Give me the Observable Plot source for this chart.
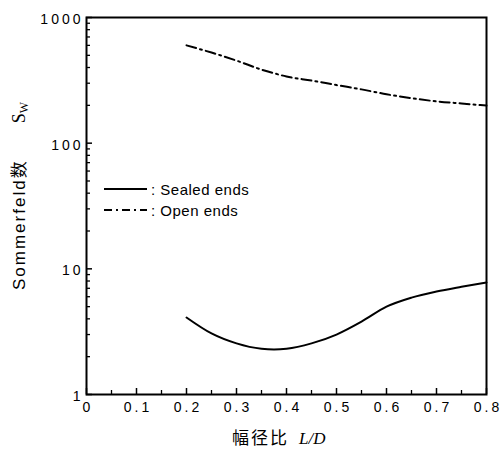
<!DOCTYPE html>
<html>
<head>
<meta charset="utf-8">
<script src="https://cdn.jsdelivr.net/npm/d3@7"></script>
<script src="https://cdn.jsdelivr.net/npm/@observablehq/plot@0.6"></script>
<style>
  html, body { margin: 0; padding: 0; background: #fff; }
  g[aria-label="x-axis tick label"] text, g[aria-label="y-axis tick label"] text { letter-spacing: 3px; }
</style>
</head>
<body>
<div id="chart"></div>
<script>
// L/D values (x)
const ratioLD = [0.20, 0.25, 0.30, 0.35, 0.375, 0.40, 0.45, 0.50, 0.55, 0.60, 0.65, 0.70, 0.75, 0.80];
// Sommerfeld number, sealed ends
const sealedEnds = [4.1, 3.06, 2.55, 2.31, 2.28, 2.31, 2.55, 3.0, 3.8, 5.0, 5.9, 6.6, 7.2, 7.8];
// Sommerfeld number, open ends
const openEnds = [600, 526, 454, 385, 360, 339, 315, 290, 268, 245, 228, 215, 207, 199];

const seriesNames = ["Sealed ends", "Open ends"];
const xTicks = [0, 0.1, 0.2, 0.3, 0.4, 0.5, 0.6, 0.7, 0.8];
const xMinorTicks = [0.05, 0.15, 0.25, 0.35, 0.45, 0.55, 0.65, 0.75];
const yTicks = [1, 10, 100, 1000];
const yMinorTicks = [2,3,4,5,6,7,8,9,20,30,40,50,60,70,80,90,200,300,400,500,600,700,800,900];

const sealedData = ratioLD.map((x, i) => ({x, y: sealedEnds[i]}));
const openData = ratioLD.map((x, i) => ({x, y: openEnds[i]}));

const W = 501, H = 449, mL = 86, mR = 15, mT = 17, mB = 55;
const plotW = W - mL - mR, plotH = H - mT - mB;
const dashOpen = "10,4,2,4";

const chart = Plot.plot({
  width: W,
  height: H,
  marginLeft: mL,
  marginRight: mR,
  marginTop: mT,
  marginBottom: mB,
  style: { fontFamily: "'Liberation Sans', Arial, sans-serif", fontSize: "14px", color: "#000", background: "#fff" },
  x: { domain: [0, 0.8] },
  y: { type: "log", domain: [1, 1000] },
  marks: [
    Plot.axisX(xTicks, { tickSize: 0, tickPadding: 8, label: null, fontSize: 14, dx: 1.5,
      tickFormat: d => d === 0 ? "0" : d3.format(".1f")(d) }),
    Plot.axisY(yTicks, { tickSize: 0, tickPadding: 3, label: null, fontSize: 14, dy: 2,
      tickFormat: d3.format("d") }),
    // inward tick marks
    Plot.ruleX(xTicks, { x: d => d, insetTop: plotH - 6, stroke: "#000", strokeWidth: 1.5 }),
    Plot.ruleX(xMinorTicks, { x: d => d, insetTop: plotH - 4, stroke: "#000", strokeWidth: 1.3 }),
    Plot.ruleY(yTicks, { y: d => d, insetRight: plotW - 6, stroke: "#000", strokeWidth: 1.5 }),
    Plot.ruleY(yMinorTicks, { y: d => d, insetRight: plotW - 4, stroke: "#000", strokeWidth: 1.3 }),
    Plot.line(sealedData, { x: "x", y: "y", curve: "monotone-x", stroke: "#000", strokeWidth: 2 }),
    Plot.line(openData, { x: "x", y: "y", curve: "monotone-x", stroke: "#000", strokeWidth: 2, strokeDasharray: dashOpen }),
    Plot.frame({ stroke: "#000", strokeWidth: 2 })
  ]
});

const svg = d3.select(chart);

// Legend
const legend = svg.append("g")
  .attr("font-family", "'Liberation Sans', Arial, sans-serif")
  .attr("font-size", 15)
  .attr("text-anchor", "start");
[[189, null, 195], [210, dashOpen, 216]].forEach(([ly, dash, ty], i) => {
  const ln = legend.append("line").attr("x1", 104).attr("x2", 147).attr("y1", ly).attr("y2", ly)
    .attr("stroke", "#000").attr("stroke-width", 2);
  if (dash) ln.attr("stroke-dasharray", "8,4,2,4");
  legend.append("text").attr("x", 151).attr("y", ty).attr("letter-spacing", 0.5).text(": " + seriesNames[i]);
});

// Y axis title
const yt = svg.append("text")
  .attr("transform", "translate(25,290) rotate(-90)")
  .attr("text-anchor", "start")
  .attr("font-family", "'Liberation Sans', Arial, 'Noto Sans CJK SC', sans-serif")
  .attr("font-size", 17)
  .attr("letter-spacing", 2);
yt.append("tspan").text("Sommerfeld");
yt.append("tspan").attr("font-family", "'Noto Sans CJK SC', sans-serif").attr("letter-spacing", 0).text("数");
yt.append("tspan").attr("dx", 38).attr("font-family", "'Liberation Serif', 'Times New Roman', serif").attr("font-size", 18).attr("letter-spacing", 0).text("S");
yt.append("tspan").attr("font-family", "'Liberation Serif', 'Times New Roman', serif").attr("font-size", 12).attr("dy", 3).attr("letter-spacing", 0).text("W");

// X axis title
const xt = svg.append("text")
  .attr("x", 232).attr("y", 444)
  .attr("text-anchor", "start")
  .attr("font-family", "'Noto Sans CJK SC', sans-serif")
  .attr("font-size", 17)
  .attr("letter-spacing", 2);
xt.append("tspan").text("幅径比");
xt.append("tspan").attr("dx", 10).attr("font-family", "'Liberation Serif', 'Times New Roman', serif").attr("font-style", "italic").attr("letter-spacing", 0).attr("font-size", 17).text("L/D");

document.getElementById("chart").appendChild(chart);
</script>
</body>
</html>
